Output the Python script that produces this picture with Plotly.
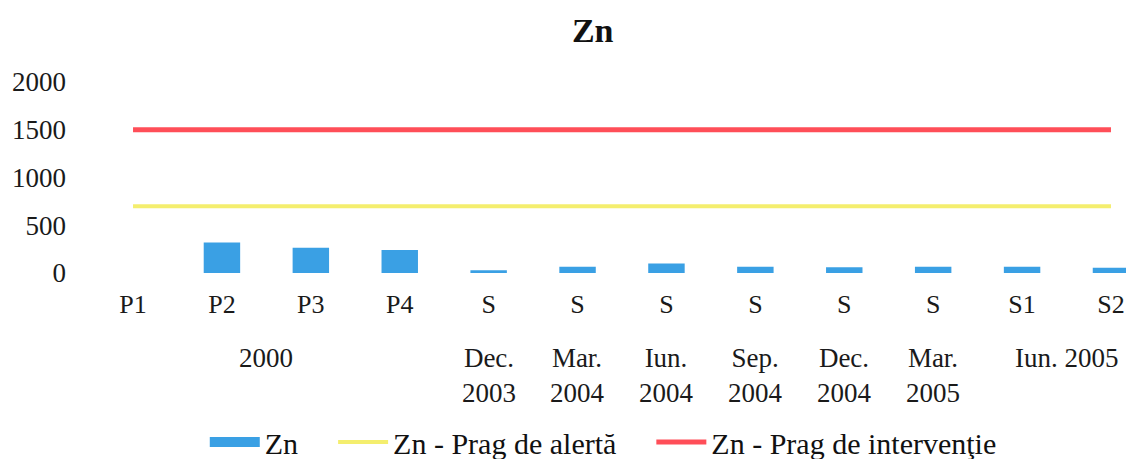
import plotly.graph_objects as go

# Data
positions = list(range(12))
tick_labels = ["P1", "P2", "P3", "P4", "S", "S", "S", "S", "S", "S", "S1", "S2"]
zn_values = [0, 320, 265, 240, 30, 65, 100, 65, 60, 65, 65, 55]
alert_values = [700] * 12
intervention_values = [1500] * 12
group_labels = ["2000", "Dec.<br>2003", "Mar.<br>2004", "Iun.<br>2004", "Sep.<br>2004",
                "Dec.<br>2004", "Mar.<br>2005", "Iun. 2005"]
group_positions = [1.5, 4, 5, 6, 7, 8, 9, 10.5]
y_ticks = [0, 500, 1000, 1500, 2000]

FONT = "Liberation Serif, Times New Roman, DejaVu Serif, serif"
TXT = "#1a1a1a"
BLUE = "#3AA0E4"
GAP = "\u00a0" * 4
fig = go.Figure()
fig.add_trace(go.Bar(x=positions, y=zn_values, name="Zn", width=0.41, showlegend=False,
                     marker=dict(color=BLUE, line=dict(width=0))))
# legend key for the bars drawn as a wide block, like the reference
fig.add_trace(go.Scatter(x=[None], y=[None], name="Zn" + GAP, mode="lines",
                         line=dict(color=BLUE, width=14)))
fig.add_trace(go.Scatter(x=positions, y=alert_values, name="Zn - Prag de alertă" + GAP,
                         mode="lines", line=dict(color="#F4EE6E", width=4)))
fig.add_trace(go.Scatter(x=positions, y=intervention_values, name="Zn - Prag de intervenţie",
                         mode="lines", line=dict(color="#FF4E58", width=5)))

for gx, gl in zip(group_positions, group_labels):
    fig.add_annotation(x=gx, y=0, xref="x", yref="paper", text=gl, showarrow=False,
                       yanchor="top", yshift=-68, font=dict(family=FONT, size=27, color=TXT),
                       align="center")

# page body adds an 8px offset; size the figure so it fits inside the visible page
fig.update_layout(
    width=1118, height=451,
    margin=dict(l=62, r=0, t=74, b=186, autoexpand=False),
    paper_bgcolor="white", plot_bgcolor="white",
    title=dict(text="<b>Zn</b>", x=0.523, xanchor="center", y=1 - 22 / 451,
               yanchor="middle", font=dict(family=FONT, size=34, color="#111")),
    font=dict(family=FONT, size=27, color=TXT),
    xaxis=dict(range=[-0.709, 11.169], tickvals=positions, ticktext=tick_labels,
               showgrid=False, zeroline=False, showline=False, ticks="",
               ticklabelstandoff=13, tickfont=dict(family=FONT, size=26, color=TXT)),
    yaxis=dict(range=[0, 2000], tickvals=y_ticks, showgrid=False, zeroline=False,
               showline=False, ticks="", ticklabelstandoff=3,
               tickfont=dict(family=FONT, size=27, color=TXT)),
    legend=dict(orientation="h", x=0.505, xanchor="center", y=-0.885, yanchor="middle",
                font=dict(family=FONT, size=30, color="#111"), itemwidth=50,
                traceorder="normal"),
    showlegend=True,
)

fig.write_html("out.html")
